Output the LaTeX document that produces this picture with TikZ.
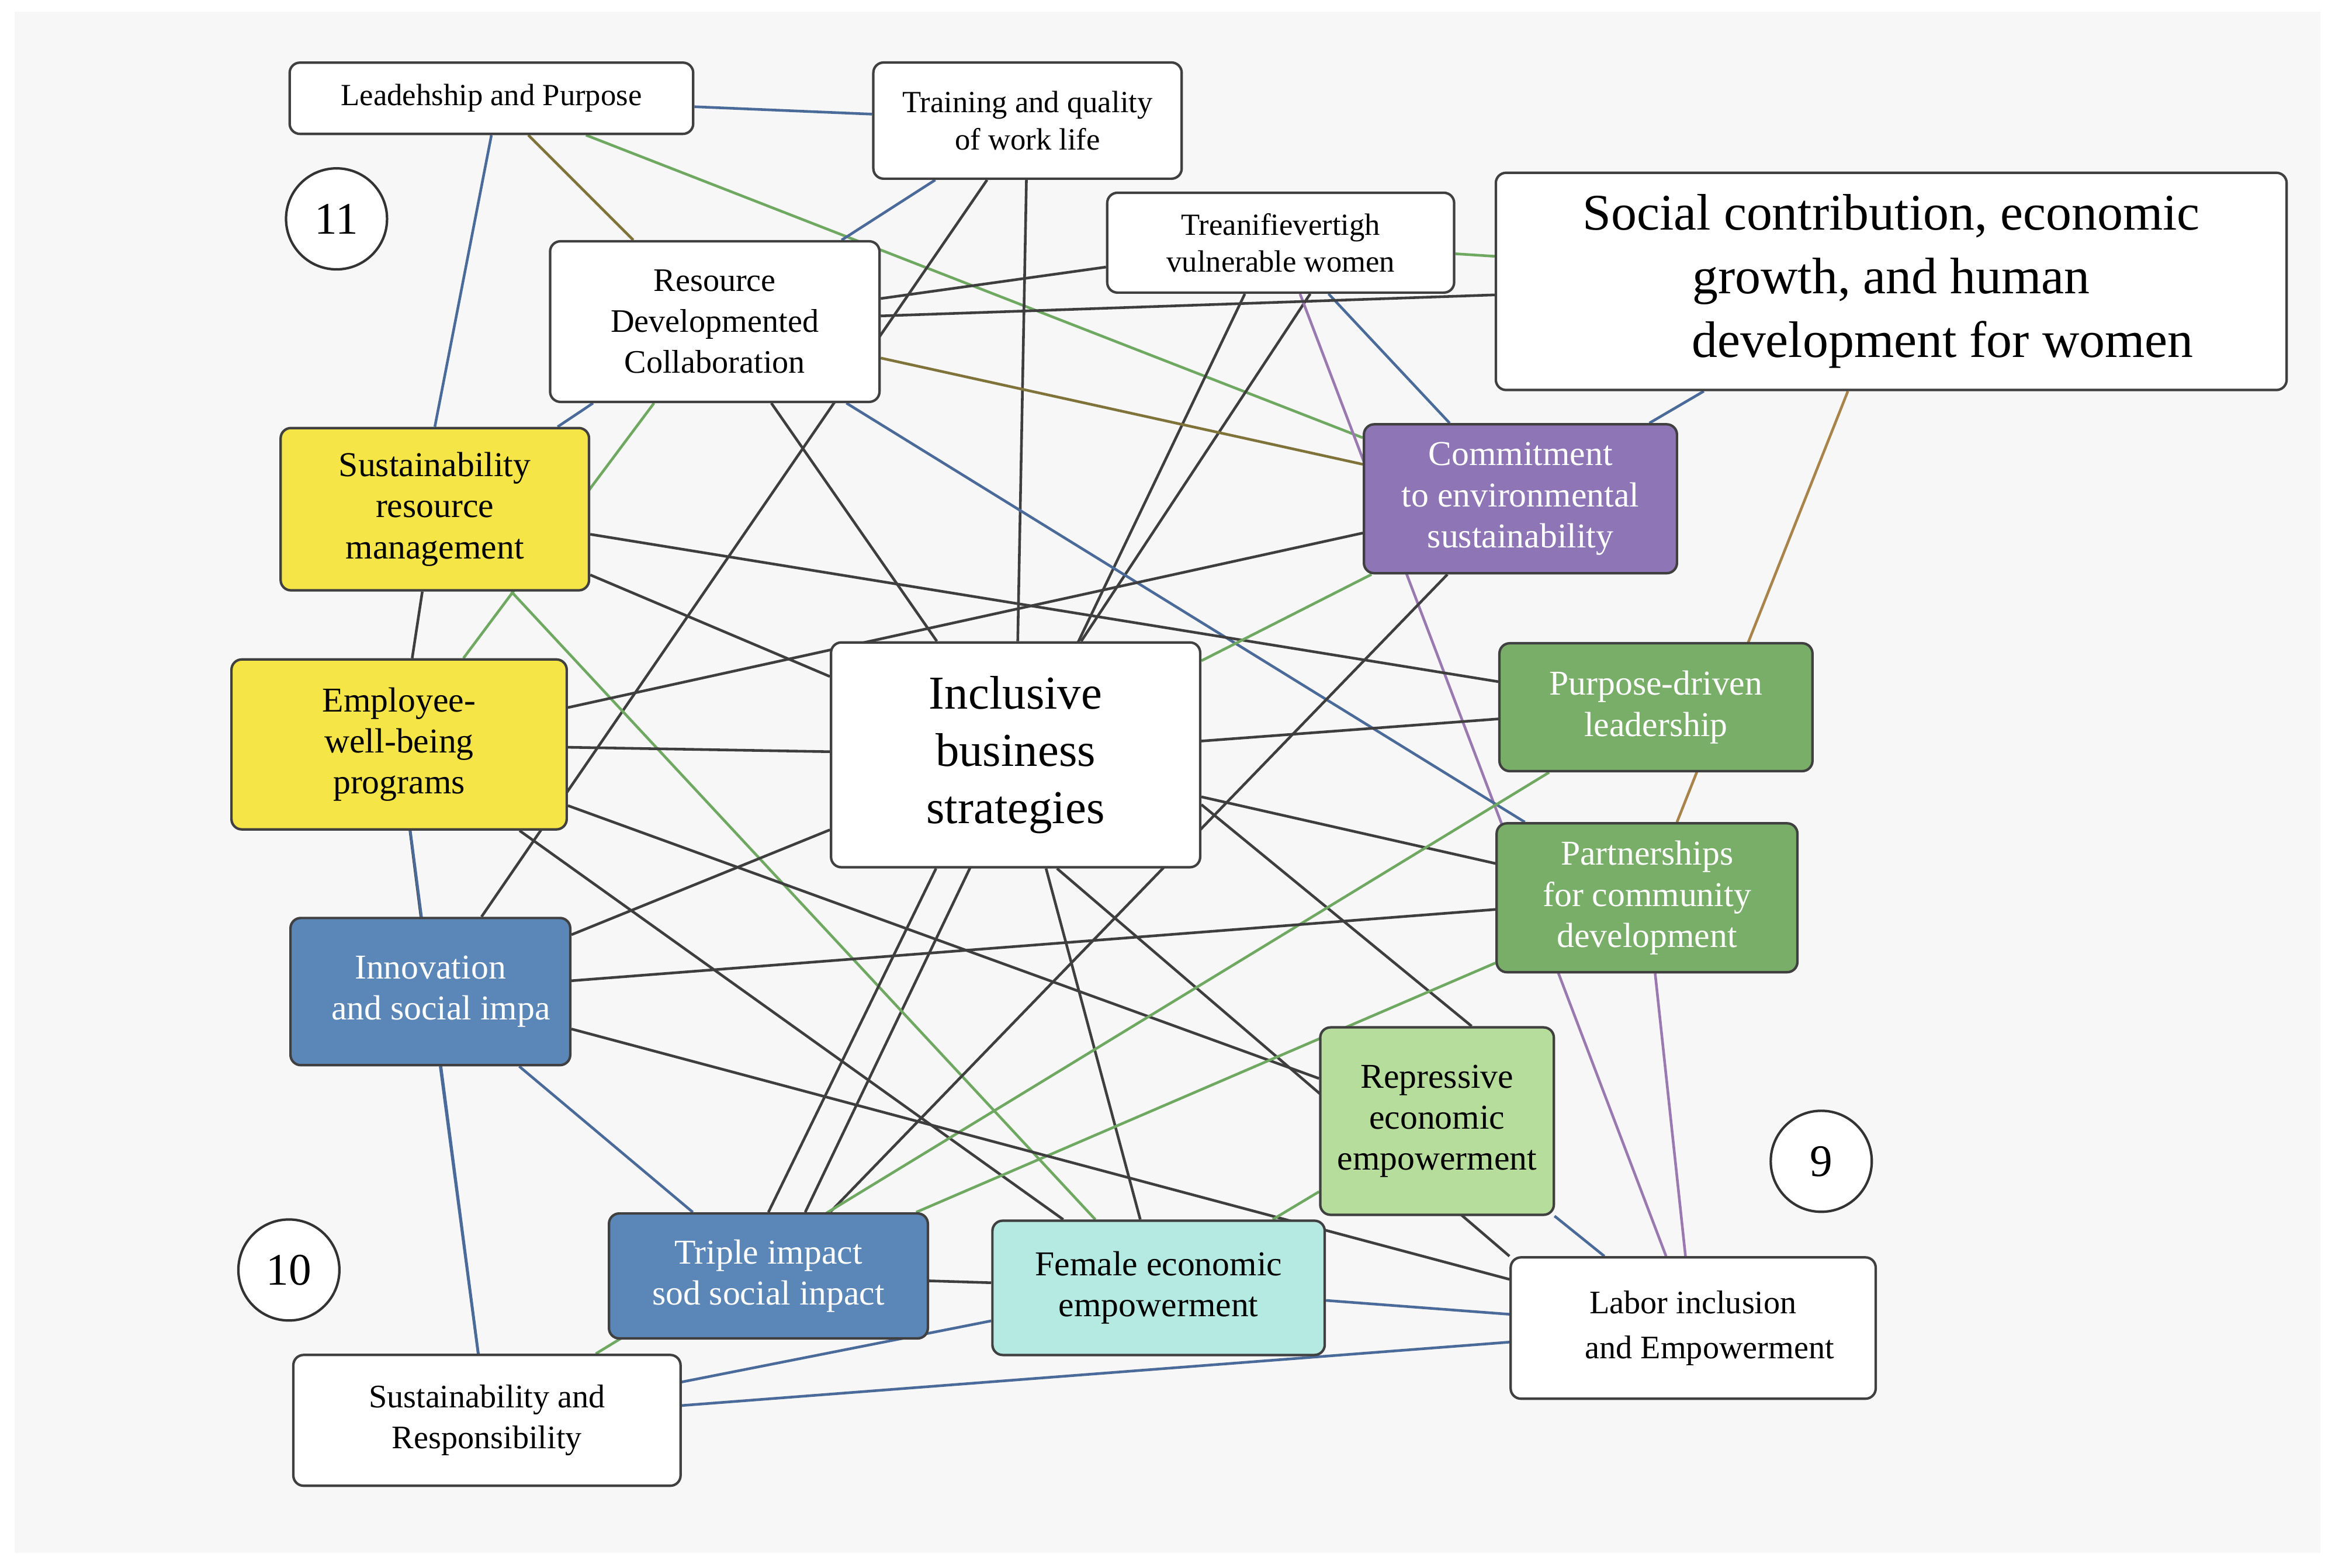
\documentclass[tikz,border=0pt]{standalone}
\usepackage{fontspec}
\setmainfont{Liberation Serif}
\begin{document}
\pgfdeclarelayer{bg}\pgfdeclarelayer{back}\pgfsetlayers{back,bg,main}
\definecolor{cyel}{HTML}{F5E547}\definecolor{cpur}{HTML}{8E76B6}
\definecolor{cgrn}{HTML}{78AE68}\definecolor{clgr}{HTML}{B6DD9C}
\definecolor{cblu}{HTML}{5B86B8}\definecolor{ccya}{HTML}{B5EAE2}
\definecolor{edk}{HTML}{3E3E3E}\definecolor{ebl}{HTML}{4A6A9A}
\definecolor{egr}{HTML}{6FA860}\definecolor{eol}{HTML}{7F733A}
\definecolor{epu}{HTML}{9A78B0}\definecolor{ebr}{HTML}{A8844A}
\begin{tikzpicture}[x=0.0255cm,y=-0.0255cm,
 box/.style={draw=black!75,line width=1.2pt,rounded corners=5pt,fill=white,align=center,font=\fontsize{15}{18}\selectfont,inner sep=2pt},
 mid/.style={box,font=\fontsize{17}{20}\selectfont},
 wt/.style={text=white},
 e/.style={line width=1.3pt,edk},
 circ/.style={circle,draw=black!80,line width=1.2pt,minimum size=1.73cm,font=\fontsize{22}{26}\selectfont,fill=white}]
\begin{pgfonlayer}{back}
\fill[white] (0,0) rectangle (1568,1053);
\fill[black!3] (10,8) rectangle (1558,1043);
\end{pgfonlayer}
\node[box,minimum width=6.91cm,minimum height=1.22cm] (lead) at (330,66) {Leadehship and Purpose};
\node[box,minimum width=5.28cm,minimum height=1.99cm] (train) at (690,81) {Training and quality\\of work life};
\node[box,minimum width=5.94cm,minimum height=1.71cm] (trea) at (860,163) {Treanifievertigh\\vulnerable women};
\node[box,minimum width=13.54cm,minimum height=3.72cm,font=\fontsize{25}{31}\selectfont] (soc) at (1270,189) {Social contribution, economic\\growth, and human\\\hspace*{2em}development for women};
\node[box,minimum width=5.64cm,minimum height=2.75cm,font=\fontsize{16}{20}\selectfont] (res) at (480,216) {Resource\\Developmented\\Collaboration};
\node[mid,fill=cyel,minimum width=5.28cm,minimum height=2.78cm] (srm) at (292,342) {Sustainability\\resource\\management};
\node[mid,fill=cyel,minimum width=5.74cm,minimum height=2.91cm] (emp) at (268,500) {Employee-\\well-being\\programs};
\node[box,minimum width=6.32cm,minimum height=3.85cm,font=\fontsize{23}{28}\selectfont] (inc) at (682,507) {Inclusive\\business\\strategies};
\node[mid,wt,fill=cpur,minimum width=5.36cm,minimum height=2.55cm] (com) at (1021,335) {Commitment\\to environmental\\sustainability};
\node[mid,wt,fill=cgrn,minimum width=5.36cm,minimum height=2.19cm] (pur) at (1112,475) {Purpose-driven\\leadership};
\node[mid,wt,fill=cgrn,minimum width=5.15cm,minimum height=2.55cm] (par) at (1106,603) {Partnerships\\for community\\development};
\node[mid,wt,fill=cblu,minimum width=4.79cm,minimum height=2.52cm] (inn) at (289,666) {Innovation\\\hspace*{0.6em}and social impa};
\node[mid,fill=clgr,minimum width=4.0cm,minimum height=3.21cm] (rep) at (965,753) {Repressive\\economic\\empowerment};
\node[mid,wt,fill=cblu,minimum width=5.46cm,minimum height=2.14cm] (tri) at (516,857) {Triple impact\\sod social inpact};
\node[mid,fill=ccya,minimum width=5.69cm,minimum height=2.30cm] (fem) at (778,865) {Female economic\\empowerment};
\node[mid,minimum width=6.25cm,minimum height=2.42cm,font=\fontsize{16}{22}\selectfont] (lab) at (1137,892) {Labor inclusion\\\hspace*{1em}and Empowerment};
\node[mid,minimum width=6.63cm,minimum height=2.24cm,font=\fontsize{16}{20}\selectfont] (sr) at (327,954) {Sustainability and\\Responsibility};
\node[circ] (c11) at (226,147) {11};
\node[circ] (c10) at (194,853) {10};
\node[circ] (c9) at (1223,780) {9};
\begin{pgfonlayer}{bg}
\draw[e,ebl] (lead) -- (train);
\draw[e,ebl] (lead.south) -- (srm.north);
\draw[e,eol] (lead) -- (res);
\draw[e,egr] (lead) -- (com);
\draw[e,ebl] (train) -- (res);
\draw[e] (train) -- (inn);
\draw[e] (train) -- (inc);
\draw[e] (trea) -- (res);
\draw[e] (trea.300) -- (inc.60);
\draw[e] (trea.235) -- (tri.60);
\draw[e,ebl] (trea) -- (com);
\draw[e,epu] (trea) -- (lab);
\draw[e,egr] (trea) -- (soc);
\draw[e,ebl] (soc) -- (com);
\draw[e,ebr] (soc) -- (par);
\draw[e] (res) -- (soc);
\draw[e,ebl] (res) -- (par);
\draw[e,eol] (res) -- (com);
\draw[e] (res) -- (inc);
\draw[e,egr] (res) -- (emp);
\draw[e,ebl] (res) -- (srm);
\draw[e] (srm) -- (pur);
\draw[e] (srm) -- (inc);
\draw[e,egr] (srm) -- (fem);
\draw[e] (srm) -- (emp);
\draw[e] (emp) -- (com);
\draw[e] (emp) -- (inc);
\draw[e] (emp) -- (rep);
\draw[e] (emp) -- (fem);
\draw[e] (emp) -- (inn);
\draw[e,ebl] (emp) -- (sr);
\draw[e] (inc) -- (pur);
\draw[e] (inc) -- (par);
\draw[e] (inc) -- (inn);
\draw[e] (inc.235) -- (tri.north);
\draw[e] (inc) -- (fem);
\draw[e] (inc.290) -- (lab.north west);
\draw[e] (inc.345) -- (rep.70);
\draw[e,egr] (com) -- (inc);
\draw[e] (com) -- (tri);
\draw[e,egr] (pur) -- (sr);
\draw[e] (par) -- (inn);
\draw[e,epu] (par) -- (lab);
\draw[e,egr] (par) -- (tri);
\draw[e,ebl] (inn) -- (tri);
\draw[e,ebl] (inn) -- (sr);
\draw[e] (inn) -- (lab);
\draw[e] (tri) -- (fem);
\draw[e,ebl] (fem) -- (lab);
\draw[e,ebl] (fem) -- (sr);
\draw[e,ebl] (lab) -- (sr);
\draw[e,egr] (rep) -- (fem);
\draw[e,ebl] (rep) -- (lab);
\end{pgfonlayer}
\end{tikzpicture}
\end{document}
